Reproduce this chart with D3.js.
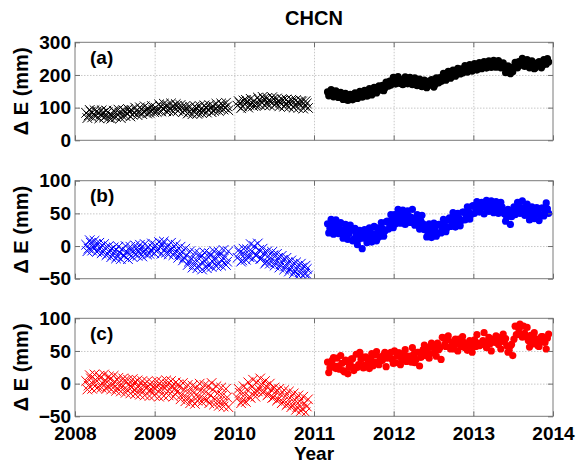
<!DOCTYPE html>
<html lang="en">
<head>
    <meta charset="UTF-8">
    <title>CHCN</title>
    <script src="https://cdn.jsdelivr.net/npm/d3@7/dist/d3.min.js"></script>
    <style>
        body {
            margin: 0;
            padding: 0;
            background: #fff;
        }
        text {
            font-family: "Liberation Sans", Arial, sans-serif;
            font-weight: bold;
        }
    </style>
</head>
<body>
<svg width="579" height="463" id="mainsvg"></svg>
<script>
    // sampling of the read-off series (decimal years); the "b" arrays are the
    // second pass, half a step later
    const step = 0.03;
    const crossStart1 = 2008.14;
    const crossStart2 = 2010.04;
    const dotStart = 2011.17;

    const xTicks = [2008, 2009, 2010, 2011, 2012, 2013, 2014];
    const panelNames = ["(a)", "(b)", "(c)"];
    const panelColors = ["#000000", "#0000ff", "#ff0000"];
    const yDomains = [[0, 300], [-50, 100], [-50, 100]];
    const yTicks = [[0, 100, 200, 300], [-50, 0, 50, 100], [-50, 0, 50, 100]];

    // panel (a)
    const aCross1 = [84, 76, 88, 79, 74, 85, 78, 83, 72, 86, 79, 75, 88, 80, 84, 76, 90, 82, 87, 93,
        84, 90, 86, 95, 88, 92, 97, 89, 94, 100, 93, 104, 97, 101, 108, 96, 103, 99, 106, 95,
        101, 92, 97, 86, 94, 88, 99, 85, 96, 90, 101, 93, 98, 105, 94, 102, 97, 108, 100, 104];
    const aCross1b = [68, 93, 70, 92, 89, 67, 92, 70, 91, 69, 66, 90, 71, 94, 68, 92, 74, 96, 73, 78,
        100, 77, 101, 80, 104, 82, 84, 105, 86, 87, 110, 88, 112, 89, 90, 113, 88, 111, 90, 108,
        86, 105, 82, 103, 80, 104, 81, 105, 83, 107, 85, 108, 86, 90, 112, 90, 113, 94, 115, 92];
    const aCross2 = [106, 114, 103, 111, 118, 108, 115, 121, 110, 124, 116, 127, 113, 122, 118,
        126, 111, 120, 115, 123, 109, 118, 113, 121, 107, 116, 111, 119, 105, 113];
    const aCross2b = [120, 98, 122, 124, 100, 127, 105, 106, 131, 108, 133, 106, 130, 107, 132,
        108, 128, 104, 126, 103, 125, 102, 124, 100, 123, 99, 121, 97, 120, 99];
    const aDots = [148, 142, 151, 138, 145, 134, 141, 130, 139, 126, 136, 131, 142, 133, 146, 138,
        149, 141, 153, 146, 158, 151, 163, 168, 160, 174, 181, 176, 186, 179, 188, 182, 177, 187,
        180, 185, 176, 182, 172, 179, 170, 176, 166, 173, 178, 171, 184, 192, 186, 199, 193, 205,
        197, 209, 202, 213, 219, 212, 222, 217, 226, 220, 228, 223, 231, 226, 233, 228, 236, 230,
        238, 232, 236, 227, 222, 216, 211, 219, 226, 233, 241, 235, 244, 232, 238, 226, 233, 222,
        230, 236, 229, 243, 250];
    const aDotsb = [136, 155, 133, 151, 131, 147, 125, 144, 122, 141, 124, 145, 128, 150, 132, 153,
        135, 158, 139, 162, 145, 167, 154, 152, 178, 166, 169, 193, 172, 195, 174, 170, 194, 173,
        193, 170, 191, 167, 187, 164, 184, 161, 181, 186, 163, 191, 176, 180, 205, 184, 211, 190,
        215, 196, 220, 203, 206, 229, 209, 232, 212, 235, 215, 238, 219, 241, 221, 243, 223, 245,
        224, 244, 222, 237, 207, 228, 204, 210, 239, 222, 229, 251, 226, 247, 222, 243, 219, 236,
        241, 222, 247, 233, 240];

    // panel (b)
    const bCross1 = [2, -4, 5, -2, 3, -7, -1, -9, -3, -12, -6, -14, -8, -16, -10, -5, -15, -9, -13, -6,
        -11, -4, -9, -3, -10, -5, -1, -8, -3, 1, -6, -2, 3, -5, 0, -8, -3, -10, -6, -13,
        -9, -18, -14, -24, -19, -28, -21, -30, -17, -26, -20, -29, -15, -24, -18, -27, -14, -22, -16, -24];
    const bCross1b = [-8, 9, -7, 8, -9, 5, -11, 3, -14, 0, -17, -2, -19, -1, -20, -14, 0, -20, -1, -17,
        1, -15, 2, -16, 3, -13, -12, 4, -11, -8, 6, -12, 7, -10, -13, 5, -14, 2, -18, -1,
        -22, -4, -29, -8, -33, -10, -34, -12, -36, -10, -34, -11, -32, -8, -31, -9, -30, -6, -29, -8];
    const bCross2 = [-18, -10, -22, -13, -5, -17, -8, 0, -14, -6, -19, -11, -24, -15, -22, -14,
        -25, -18, -28, -21, -31, -25, -35, -28, -38, -31, -40, -33, -42, -35];
    const bCross2b = [-6, -24, -4, -21, -16, 3, -19, -14, 4, -20, -4, -27, -8, -27, -9, -30,
        -12, -33, -15, -36, -18, -39, -22, -42, -25, -45, -27, -46, -30, -45];
    const bDots = [34, 27, 33, 25, 32, 26, 25, 18, 26, 19, 24, 11, 17, 10, 16, 12, 19, 13, 21, 15,
        19, 28, 22, 27, 23, 38, 33, 40, 48, 42, 47, 43, 49, 41, 46, 44, 42, 38, 33, 39,
        34, 27, 21, 26, 22, 27, 20, 33, 27, 32, 28, 43, 37, 42, 38, 43, 39, 52, 47, 53,
        48, 62, 57, 63, 58, 61, 59, 64, 57, 62, 58, 63, 56, 60, 49, 44, 48, 45, 60, 55,
        61, 57, 59, 56, 52, 47, 53, 48, 51, 47, 58, 54, 57];
    const bDotsb = [20, 41, 18, 40, 19, 36, 12, 33, 10, 32, 8, 27, 2, 24, -4, 25, 5, 28, 6, 30,
        8, 14, 36, 15, 37, 26, 48, 28, 34, 56, 35, 55, 33, 54, 36, 56, 32, 48, 26, 47,
        25, 14, 34, 13, 35, 15, 33, 20, 41, 22, 40, 30, 51, 29, 50, 31, 52, 40, 60, 41,
        61, 50, 68, 52, 67, 49, 70, 53, 69, 51, 68, 50, 67, 52, 38, 56, 33, 54, 48, 67,
        50, 69, 47, 64, 40, 60, 42, 59, 39, 58, 46, 66, 50];

    // panel (c)
    const cCross1 = [4, -3, 8, -1, 6, -5, 9, 0, 5, -4, 7, -2, 3, -7, 2, -5, 4, -9, -1, -6,
        1, -8, -3, -10, -2, -7, -4, -11, -5, -8, -2, -10, -4, -7, -1, -9, -3, -8, -13, -5,
        -17, -9, -21, -12, -25, -14, -6, -19, -10, -23, -13, -4, -18, -9, -24, -15, -27, -18, -29, -21];
    const cCross1b = [-9, 13, -8, 14, -7, 12, -6, 14, -8, 11, -9, 12, -11, 9, -12, 8, -14, 6, -15, 7,
        -16, 5, -17, 4, -18, 3, -19, 2, -18, 4, -20, 3, -19, 5, -18, 4, -20, 2, -1, -24,
        1, -27, -2, -30, -3, -31, -26, 0, -28, -2, -25, -30, 1, -32, -4, -34, -6, -35, -8, -36];
    const cCross2 = [-22, -14, -26, -17, -9, -20, -5, -13, 2, -8, -1, -12, -4, -16, -9, -21, -12,
        -24, -16, -28, -19, -31, -22, -33, -25, -36, -27, -38, -30, -35];
    const cCross2b = [-8, -30, -4, -28, 2, -22, 6, -20, -12, 8, -14, 4, -18, 0, -22, -6, -26,
        -8, -30, -10, -33, -12, -36, -15, -40, -18, -42, -20, -44, -24];
    const cDots = [33, 24, 36, 27, 39, 22, 31, 18, 34, 25, 38, 20, 45, 29, 37, 24, 41, 30, 38, 27, 44,
        33, 41, 36, 48, 39, 46, 37, 50, 42, 47, 36, 44, 34, 42, 33, 45, 37, 48, 40, 52, 43, 55, 46,
        58, 50, 62, 55, 71, 60, 67, 56, 64, 53, 61, 68, 57, 63, 55, 61, 58, 64, 57, 62, 59, 66, 60,
        64, 61, 68, 63, 70, 65, 72, 64, 58, 51, 60, 68, 75, 84, 76, 88, 72, 66, 74, 61, 69, 58, 66,
        72, 63, 70];
    const cDotsb = [17, 32, 40, 23, 27, 43, 20, 36, 15, 30, 38, 25, 25, 48, 41, 28, 38, 23, 46, 33,
        49, 29, 35, 44, 26, 40, 48, 31, 32, 47, 29, 44, 52, 35, 39, 55, 32, 48, 27, 42,
        59, 46, 39, 62, 55, 42, 52, 37, 70, 57, 73, 53, 59, 68, 50, 64, 72, 55, 51, 66,
        48, 67, 75, 58, 62, 78, 55, 71, 50, 65, 73, 60, 53, 76, 69, 48, 58, 43, 88, 75,
        91, 71, 77, 86, 56, 70, 78, 61, 57, 72, 64, 53, 76];

    const crossSets = [
        [[aCross1, crossStart1], [aCross1b, crossStart1 + step / 2], [aCross2, crossStart2], [aCross2b, crossStart2 + step / 2]],
        [[bCross1, crossStart1], [bCross1b, crossStart1 + step / 2], [bCross2, crossStart2], [bCross2b, crossStart2 + step / 2]],
        [[cCross1, crossStart1], [cCross1b, crossStart1 + step / 2], [cCross2, crossStart2], [cCross2b, crossStart2 + step / 2]]
    ];
    const dotSets = [
        [[aDots, dotStart], [aDotsb, dotStart + step / 2]],
        [[bDots, dotStart], [bDotsb, dotStart + step / 2]],
        [[cDots, dotStart], [cDotsb, dotStart + step / 2]]
    ];

    const svg = d3.select("#mainsvg");
    const panelTops = [42.3, 180.7, 318.3];
    const panelH = 98;
    const x = d3.scaleLinear().domain([2008, 2014]).range([75, 553]);

    const toPoints = (vals, start) => vals.map((v, i) => ({t: start + i * step, v: v}));
    const gather = sets => sets.flatMap(s => toPoints(s[0], s[1])).sort((p, q) => p.t - q.t);

    svg.append("text")
        .attr("x", 314).attr("y", 25)
        .attr("text-anchor", "middle")
        .attr("font-size", "20px")
        .text("CHCN");

    for (let k = 0; k < 3; ++k) {
        let top = panelTops[k], bottom = top + panelH;
        let y = d3.scaleLinear().domain(yDomains[k]).range([bottom, top]);
        let g = svg.append("g");

        g.append("clipPath").attr("id", "clip" + k)
            .append("rect")
            .attr("x", x(2008)).attr("y", top)
            .attr("width", x(2014) - x(2008)).attr("height", panelH);

        // grid
        let gx = g.append("g")
            .attr("transform", "translate(0," + bottom + ")")
            .call(d3.axisBottom(x).tickValues(xTicks.slice(1, -1)).tickSize(-panelH).tickFormat(""));
        let gy = g.append("g")
            .attr("transform", "translate(" + x(2008) + ",0)")
            .call(d3.axisLeft(y).tickValues(yTicks[k].slice(1, -1)).tickSize(-(x(2014) - x(2008))).tickFormat(""));
        [gx, gy].forEach(s => {
            s.select(".domain").remove();
            s.selectAll("line").attr("stroke", "#c8c8c8").attr("stroke-dasharray", "1.5,1.5");
        });

        // marks
        let marks = g.append("g").attr("clip-path", "url(#clip" + k + ")");
        marks.selectAll("path.cross")
            .data(gather(crossSets[k]))
            .join("path")
            .attr("class", "cross")
            .attr("d", d => {
                let cx = x(d.t), cy = y(d.v), s = 4.8;
                return "M" + (cx - s) + "," + (cy - s) + "L" + (cx + s) + "," + (cy + s) +
                    "M" + (cx - s) + "," + (cy + s) + "L" + (cx + s) + "," + (cy - s);
            })
            .attr("stroke", panelColors[k])
            .attr("stroke-width", 1)
            .attr("fill", "none");
        marks.selectAll("circle")
            .data(gather(dotSets[k]))
            .join("circle")
            .attr("cx", d => x(d.t))
            .attr("cy", d => y(d.v))
            .attr("r", 3.6)
            .attr("fill", panelColors[k]);

        // frame
        g.append("rect")
            .attr("x", x(2008)).attr("y", top)
            .attr("width", x(2014) - x(2008)).attr("height", panelH)
            .attr("fill", "none").attr("stroke", "#7a7a7a").attr("stroke-width", 1);

        // ticks (inward, all four sides)
        let axB = g.append("g").attr("transform", "translate(0," + bottom + ")")
            .call(d3.axisBottom(x).tickValues(xTicks).tickSize(-5).tickPadding(10.5)
                .tickFormat(k === 2 ? d3.format("d") : ""));
        let axT = g.append("g").attr("transform", "translate(0," + top + ")")
            .call(d3.axisTop(x).tickValues(xTicks).tickSize(-5).tickFormat(""));
        let axL = g.append("g").attr("transform", "translate(" + x(2008) + ",0)")
            .call(d3.axisLeft(y).tickValues(yTicks[k]).tickSize(-5).tickPadding(4));
        let axR = g.append("g").attr("transform", "translate(" + x(2014) + ",0)")
            .call(d3.axisRight(y).tickValues(yTicks[k]).tickSize(-5).tickFormat(""));
        [axB, axT, axL, axR].forEach(s => {
            s.select(".domain").remove();
            s.selectAll("line").attr("stroke", "#6e6e6e");
            s.attr("font-family", null).attr("font-size", null);
            s.selectAll("text").attr("font-size", "19px").attr("fill", "#000");
        });

        // panel label
        g.append("text")
            .attr("x", 90).attr("y", top + 21.5)
            .attr("font-size", "19px")
            .text(panelNames[k]);

        // y label
        g.append("text")
            .attr("transform", "translate(28," + (top + panelH / 2) + ") rotate(-90)")
            .attr("text-anchor", "middle")
            .attr("font-size", "20px")
            .text("\u0394 E (mm)");
    }

    svg.append("text")
        .attr("x", 314).attr("y", 460)
        .attr("text-anchor", "middle")
        .attr("font-size", "19px")
        .text("Year");
</script>
</body>
</html>
